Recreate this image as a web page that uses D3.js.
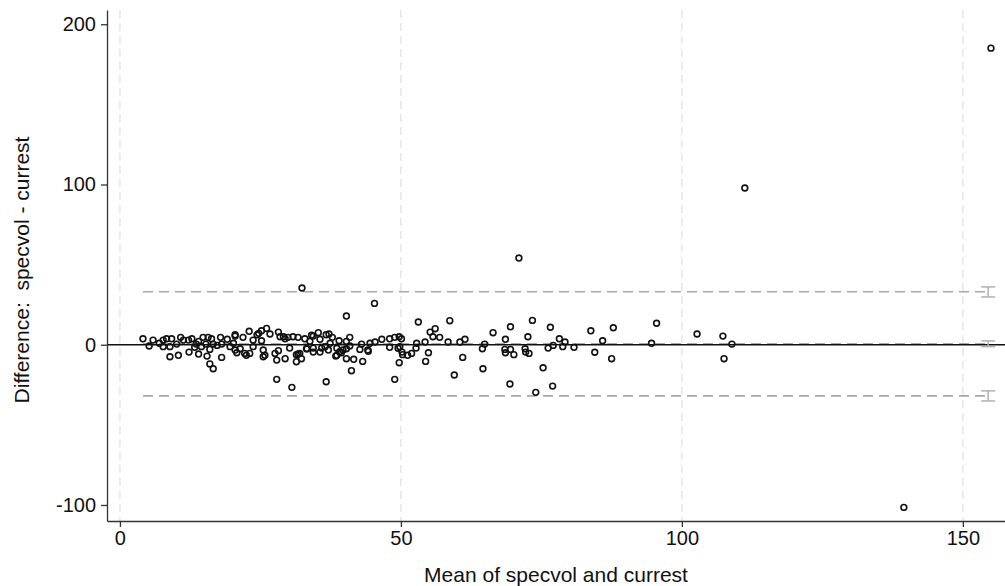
<!DOCTYPE html>
<html>
<head>
<meta charset="utf-8">
<script src="https://cdn.jsdelivr.net/npm/d3@7"></script>
<style>
  body { margin: 0; background: #fff; }
  text { font-family: "Liberation Sans", Arial, sans-serif; fill: #111; }
</style>
</head>
<body>
<div class="wrapper"></div>
<script>
// data: mean of the two methods and their difference
var means = [
  155.0, 111.2, 71.0, 32.4, 45.3, 40.3, 139.5, 4.1, 5.2, 5.9,
  7.7, 8.3, 9.2, 8.9, 10.4, 10.8, 12.3, 14.0, 14.8, 15.5,
  16.0, 16.6, 18.1, 17.9, 20.5, 23.0, 24.7, 25.2, 26.1, 26.7,
  28.2, 27.9, 30.6, 25.5, 27.9, 29.4, 31.4, 22.5, 20.8, 7.7,
  8.9, 11.3, 12.2, 12.8, 14.0, 15.7, 16.3, 16.0, 13.3, 14.5,
  15.3, 16.6, 17.3, 18.1, 13.6, 10.1, 7.0, 24.4, 29.1, 29.9,
  30.8, 31.7, 32.9, 34.1, 28.5, 20.5, 19.1, 21.9, 23.7, 25.2,
  20.2, 19.6, 20.5, 21.4, 22.2, 23.1, 23.7, 25.5, 25.8, 27.6,
  28.2, 30.2, 31.4, 32.0, 32.3, 33.3, 34.4, 33.8, 35.3, 34.4,
  36.7, 37.8, 39.0, 40.9, 37.4, 36.5, 34.4, 35.6, 35.9, 37.1,
  38.6, 39.4, 40.3, 40.9, 40.3, 41.6, 43.2, 41.2, 36.7, 42.7,
  44.2, 44.5, 45.4, 46.6, 48.0, 48.9, 49.7, 48.0, 49.8, 50.2,
  49.7, 48.9, 29.4, 37.2, 40.3, 43.0, 35.6, 38.6, 39.1, 39.7,
  38.4, 44.1, 31.7, 33.2, 49.5, 50.3, 51.2, 51.9, 52.7, 54.9,
  54.4, 52.8, 54.3, 53.1, 58.7, 56.1, 55.2, 55.7, 56.9, 58.4,
  60.5, 61.4, 61.0, 59.5, 50.1, 73.4, 69.5, 66.4, 68.6, 72.6,
  76.6, 78.2, 79.2, 83.8, 85.9, 87.8, 95.5, 94.6, 64.9, 64.5,
  68.5, 68.6, 69.5, 70.1, 72.1, 72.2, 72.8, 76.2, 77.1, 78.8,
  80.8, 84.5, 87.5, 64.6, 75.3, 69.4, 77.0, 74.0, 102.7, 107.3,
  108.9, 107.5
];
var diffs = [
  185.1, 97.8, 54.1, 35.4, 25.8, 17.9, -101.5, 3.7, -0.8, 2.9,
  2.9, 3.7, 3.7, -7.5, -6.6, 4.6, -4.6, -5.8, 4.6, -7.1,
  -12.0, -15.0, -7.9, 4.6, 5.4, 8.4, 7.1, 8.7, 10.2, 6.7,
  7.9, -21.6, -26.6, -7.5, -9.6, -8.7, -10.6, -6.6, -5.0, -1.2,
  -1.2, 2.9, 2.9, 3.7, 2.1, 4.6, 3.7, -2.9, -1.6, -1.2,
  0.4, 0.4, -0.4, 0.4, 0.4, 0.4, 0.9, 6.2, 5.0, 4.6,
  5.0, 4.6, 3.7, 5.9, 5.0, 6.2, 3.4, 4.6, 2.9, 2.5,
  0.9, -1.2, -3.3, -2.5, -5.4, -5.4, -1.2, -3.3, -6.6, -5.4,
  -3.7, -2.1, -6.2, -5.4, -8.7, -2.5, -2.1, 2.1, 7.5, 5.4,
  6.2, 4.6, 2.5, 4.6, 0.9, -1.2, -4.6, -4.6, -2.1, -3.3,
  -6.6, -5.0, -2.5, -0.8, -8.7, -9.1, -10.4, -16.2, -23.1, -2.9,
  -4.1, 0.9, 1.7, 3.4, 3.7, 4.6, 5.0, -1.6, -1.2, -4.6,
  -11.2, -21.6, 3.7, 6.7, 2.1, 0.4, 3.4, -2.2, -4.4, -3.3,
  -7.1, -3.3, -5.8, -2.5, -2.2, -6.2, -6.6, -5.4, -2.1, -5.0,
  -10.4, 0.9, 1.7, 14.2, 15.0, 10.0, 7.9, 5.0, 4.6, 1.7,
  1.7, 3.4, -7.9, -18.9, 3.7, 15.2, 11.2, 7.5, 3.4, 5.0,
  10.9, 3.7, 1.7, 8.7, 2.5, 10.6, 13.4, 0.9, 0.4, -2.5,
  -2.9, -5.0, -2.9, -6.2, -2.5, -4.6, -5.4, -2.1, -0.4, -1.2,
  -1.6, -4.7, -8.7, -15.0, -14.4, -24.5, -25.8, -29.7, 6.7, 5.4,
  0.4, -8.7
];

// mean difference and limits of agreement, with their confidence intervals
var meanDiff = 0.6, upperLoa = 33.1, lowerLoa = -31.9;
var ciLevels = [
  { lo: 29.8, hi: 36.1 },
  { lo: -1.2, hi: 2.4 },
  { lo: -35.1, hi: -28.8 }
];
var ciAt = 154.5;

var xTicks = [0, 50, 100, 150];
var yTicks = [-100, 0, 100, 200];
var xDomain = [-2.3, 157.5];
var yDomain = [-110, 208.9];

var ultimatew = 1005,
  ultimateh = 586,
  margin = { top: 10, right: 0, bottom: 65, left: 107 },
  width = ultimatew - margin.left - margin.right,
  height = ultimateh - margin.top - margin.bottom;

var points = means.map(function(m, i) {
  return { mean: m, diff: diffs[i] };
});

var svg = d3
  .select(".wrapper")
  .append("svg")
  .attr("width", ultimatew)
  .attr("height", ultimateh)
  .append("g")
  .attr("transform", "translate(" + margin.left + "," + margin.top + ")");

var x = d3.scaleLinear().domain(xDomain).range([0, width]);
var y = d3.scaleLinear().domain(yDomain).range([height, 0]);

// vertical grid lines
svg
  .append("g")
  .selectAll("line")
  .data(xTicks)
  .enter()
  .append("line")
  .attr("x1", function(d) { return x(d); })
  .attr("x2", function(d) { return x(d); })
  .attr("y1", 0)
  .attr("y2", height)
  .attr("stroke", "#e6e6e6")
  .attr("stroke-width", 1.5)
  .attr("stroke-dasharray", "8,5");

var xMin = d3.min(means), xMax = d3.max(means);

// limits of agreement + mean difference
svg
  .append("g")
  .selectAll("line")
  .data([upperLoa, lowerLoa, meanDiff])
  .enter()
  .append("line")
  .attr("x1", x(xMin))
  .attr("x2", x(xMax))
  .attr("y1", function(d) { return y(d); })
  .attr("y2", function(d) { return y(d); })
  .attr("stroke", "#a8a8a8")
  .attr("stroke-width", 1.6)
  .attr("stroke-dasharray", "10,6");

// zero line
svg
  .append("line")
  .attr("x1", 0)
  .attr("x2", width)
  .attr("y1", y(0))
  .attr("y2", y(0))
  .attr("stroke", "#111")
  .attr("stroke-width", 1.3);

// confidence interval caps at the right edge
var ci = svg
  .append("g")
  .attr("stroke", "#b0b0b0")
  .attr("stroke-width", 1.5)
  .attr("fill", "none");
ciLevels.forEach(function(c) {
  var cx = x(ciAt);
  ci.append("line")
    .attr("x1", cx).attr("x2", cx)
    .attr("y1", y(c.lo)).attr("y2", y(c.hi));
  [c.lo, c.hi].forEach(function(v) {
    ci.append("line")
      .attr("x1", cx - 7).attr("x2", cx + 7)
      .attr("y1", y(v)).attr("y2", y(v));
  });
});

// scatter points
svg
  .append("g")
  .selectAll("circle")
  .data(points)
  .enter()
  .append("circle")
  .attr("cx", function(d) { return x(d.mean); })
  .attr("cy", function(d) { return y(d.diff); })
  .attr("r", 2.9)
  .attr("fill", "none")
  .attr("stroke", "#111")
  .attr("stroke-width", 1.6);

// axes (plain hyphen for negatives, like the original)
var plain = function(d) { return String(d); };
var xAxis = svg
  .append("g")
  .attr("transform", "translate(0," + height + ")")
  .call(d3.axisBottom(x).tickValues(xTicks).tickFormat(plain).tickSize(6).tickPadding(4).tickSizeOuter(0));
var yAxis = svg
  .append("g")
  .call(d3.axisLeft(y).tickValues(yTicks).tickFormat(plain).tickSize(6).tickPadding(5).tickSizeOuter(0));

[xAxis, yAxis].forEach(function(a) {
  a.select(".domain").attr("stroke", "#333").attr("stroke-width", 1.3);
  a.selectAll(".tick line").attr("stroke", "#333").attr("stroke-width", 1.3);
  a.selectAll(".tick text")
    .style("font-family", '"Liberation Sans", Arial, sans-serif')
    .style("font-size", "20px")
    .attr("fill", "#111");
});

// axis titles
svg
  .append("text")
  .attr("x", width / 2)
  .attr("y", height + 61)
  .attr("text-anchor", "middle")
  .style("font-size", "21px")
  .text("Mean of specvol and currest");

svg
  .append("text")
  .attr("transform", "translate(" + (29 - margin.left) + "," + 260 + ") rotate(-90)")
  .attr("text-anchor", "middle")
  .style("font-size", "21px")
  .style("white-space", "pre")
  .text("Difference:  specvol - currest");
</script>
</body>
</html>
